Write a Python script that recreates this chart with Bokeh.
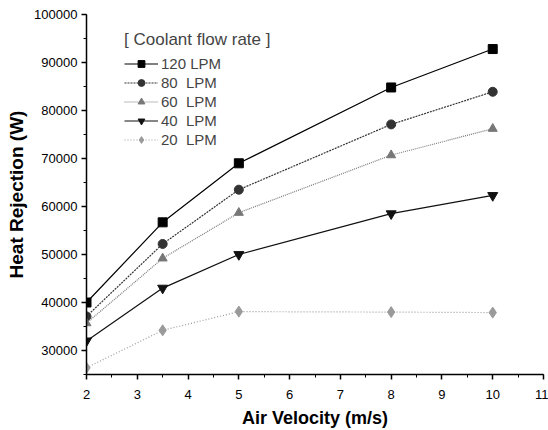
from bokeh.plotting import figure
from bokeh.models import (Range1d, SingleIntervalTicker, BasicTickFormatter, Legend, LegendItem)
from bokeh.embed import file_html
from bokeh.resources import INLINE

air_velocity = [2, 3.5, 5, 8, 10]
lpm_120 = [40000, 56700, 69000, 84800, 92800]
lpm_80 = [37100, 52200, 63500, 77100, 83900]
lpm_60 = [35700, 49200, 58700, 70700, 76200]
lpm_40 = [32000, 43000, 50000, 58500, 62300]
lpm_20 = [26400, 34200, 38100, 38000, 37900]
series_labels = ["120 LPM", "80  LPM", "60  LPM", "40  LPM", "20  LPM"]

p = figure(width=548, height=430, output_backend="svg", toolbar_location=None,
           x_range=Range1d(2, 11), y_range=Range1d(25000, 100000),
           min_border_left=86, min_border_top=14, min_border_right=5, min_border_bottom=54)
p.xgrid.visible = False
p.ygrid.visible = False
p.outline_line_color = None
p.background_fill_color = "white"

font = "Liberation Sans"
for ax in (p.xaxis[0], p.yaxis[0]):
    ax.axis_line_width = 1.5
    ax.axis_line_color = "black"
    ax.major_tick_line_color = "black"
    ax.major_tick_line_width = 1.5
    ax.minor_tick_line_color = "black"
    ax.major_tick_out = 5
    ax.major_tick_in = 0
    ax.minor_tick_out = 3
    ax.minor_tick_in = 0
    ax.major_label_text_font = font
    ax.major_label_text_font_size = "13px"
    ax.major_label_text_color = "black"
    ax.axis_label_text_font = font
    ax.axis_label_text_font_style = "bold"
    ax.axis_label_text_color = "black"

p.xaxis.axis_label_text_font_size = "18px"
p.yaxis.axis_label_text_font_size = "19px"
p.xaxis.ticker = SingleIntervalTicker(interval=1, num_minor_ticks=2)
p.yaxis.ticker = SingleIntervalTicker(interval=10000, num_minor_ticks=2)
p.yaxis.formatter = BasicTickFormatter(use_scientific=False)
p.xaxis.axis_label = "Air Velocity (m/s)"
p.yaxis.axis_label = "Heat Rejection (W)"
p.xaxis.major_label_standoff = 10
p.xaxis.axis_label_standoff = 6
p.yaxis.axis_label_standoff = 4
p.yaxis.major_label_standoff = 4

styles = [
    (lpm_120, "#000000", "solid", "square", 9),
    (lpm_80, "#333333", "2 1", "circle", 9),
    (lpm_60, "#777777", "1 1", "triangle", 9),
    (lpm_40, "#111111", "solid", "inverted_triangle", 10),
    (lpm_20, "#9a9a9a", "1 2", "diamond", 11),
]
items = []
for (vals, col, dash, marker, size), lab in zip(styles, series_labels):
    r1 = p.line(air_velocity, vals, line_color=col, line_dash=dash, line_width=1.2)
    r2 = p.scatter(air_velocity, vals, marker=marker, size=size, fill_color=col, line_color=col)
    items.append(LegendItem(label=lab, renderers=[r1, r2]))

legend = Legend(items=items, location=(38, 226), title="[ Coolant flow rate ]")
legend.border_line_color = None
legend.background_fill_alpha = 0
legend.title_text_font = font
legend.title_text_font_size = "17px"
legend.title_text_font_style = "normal"
legend.label_text_font = font
legend.label_text_font_size = "15px"
legend.glyph_width = 34
legend.glyph_height = 17
legend.label_height = 17
legend.spacing = 2
legend.padding = 4
legend.label_standoff = 3
p.add_layout(legend)

open("out.html", "w").write(file_html(p, INLINE))
